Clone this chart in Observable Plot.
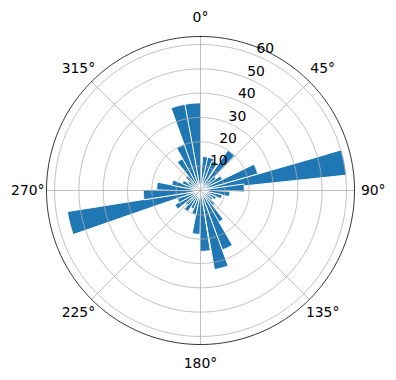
<!DOCTYPE html>
<html><head><meta charset="utf-8">
<script src="https://cdn.jsdelivr.net/npm/d3@7"></script>
<script src="https://cdn.jsdelivr.net/npm/@observablehq/plot@0.6"></script>
<style>body{margin:0;background:#fff}</style>
</head><body><div id="chart"></div>
<script>
// bar centre directions (degrees, clockwise from north) and bar lengths
const thetaDeg = [9,18,27,39.5,50,59,69,79,87, 97,107,117,127,137,147,155,165,176, 186,196,206,216,226,236,246,256,266, 276,286,296,306,316,326,336,345.5,355];
const radii    = [14,14,12.9,20,8,10,24.5,60.3,18, 12,9,7,6,8,15,26,33,25, 18,10,8,10,8,12,10,55.4,23.5, 18,12,8,6,8,15,20,36,36];
const barWidthDeg = 10;
const rTicks = [10, 20, 30, 40, 50, 60];
const thetaTicks = [0, 45, 90, 135, 180, 225, 270, 315];
const thetaLabels = ["0°", "45°", "90°", "135°", "180°", "225°", "270°", "315°"];

const rMax = 1.05 * d3.max(radii);
const lon = a => 180 - a;   // compass angle -> longitude
const lat = r => 90 - r;    // radius -> latitude

function fixWinding(geom) {
  if (d3.geoArea(geom) > 2 * Math.PI) geom.coordinates = geom.coordinates.map(r => r.slice().reverse());
  return geom;
}
const bars = thetaDeg.map((t, i) => {
  const a1 = t - barWidthDeg / 2, a2 = t + barWidthDeg / 2, r = radii[i], r0 = 0.02;
  const ring = [];
  for (let a = a1; a <= a2 + 1e-9; a += 0.5) ring.push([lon(a), lat(r)]);
  ring.push([lon(a2), lat(r0)]);
  ring.push([lon(a1), lat(r0)]);
  ring.push(ring[0]);
  return fixWinding({type: "Polygon", coordinates: [ring]});
});
const ringLine = r => {
  const c = [];
  for (let a = 0; a <= 360; a += 1) c.push([lon(a), lat(r)]);
  return {type: "LineString", coordinates: c};
};
const rings = rTicks.map(ringLine);
const spokes = thetaTicks.map(a => ({type: "LineString", coordinates: [[lon(a), lat(0)], [lon(a), lat(rMax)]]}));
const spine = ringLine(rMax);

const font = "DejaVu Sans, sans-serif";
const chart = Plot.plot({
  width: 396, height: 380,
  marginLeft: 46, marginRight: 42, marginTop: 36, marginBottom: 36,
  style: {fontFamily: font, background: "white"},
  projection: {
    type: "azimuthal-equidistant",
    rotate: [0, -90],
    clip: false,
    domain: d3.geoCircle().center([0, 90]).radius(rMax)()
  },
  marks: [
    Plot.geo(bars, {fill: "#1f77b4", stroke: "white", strokeWidth: 1}),
    Plot.geo(rings, {stroke: "#b0b0b0", strokeWidth: 0.8, fill: "none"}),
    Plot.geo(spokes, {stroke: "#b0b0b0", strokeWidth: 0.8}),
    Plot.geo([spine], {stroke: "black", strokeWidth: 0.8, fill: "none"}),
    Plot.text(rTicks, {x: lon(22.5), y: d => lat(d), text: d => String(d), dx: 9, dy: -7, fontSize: 13.9, fill: "black"}),
    Plot.text(thetaTicks, {x: d => lon(d), y: lat(71), text: (d, i) => thetaLabels[i], fontSize: 13.9, fill: "black"})
  ]
});
document.getElementById("chart").appendChild(chart);
</script>
</body></html>
